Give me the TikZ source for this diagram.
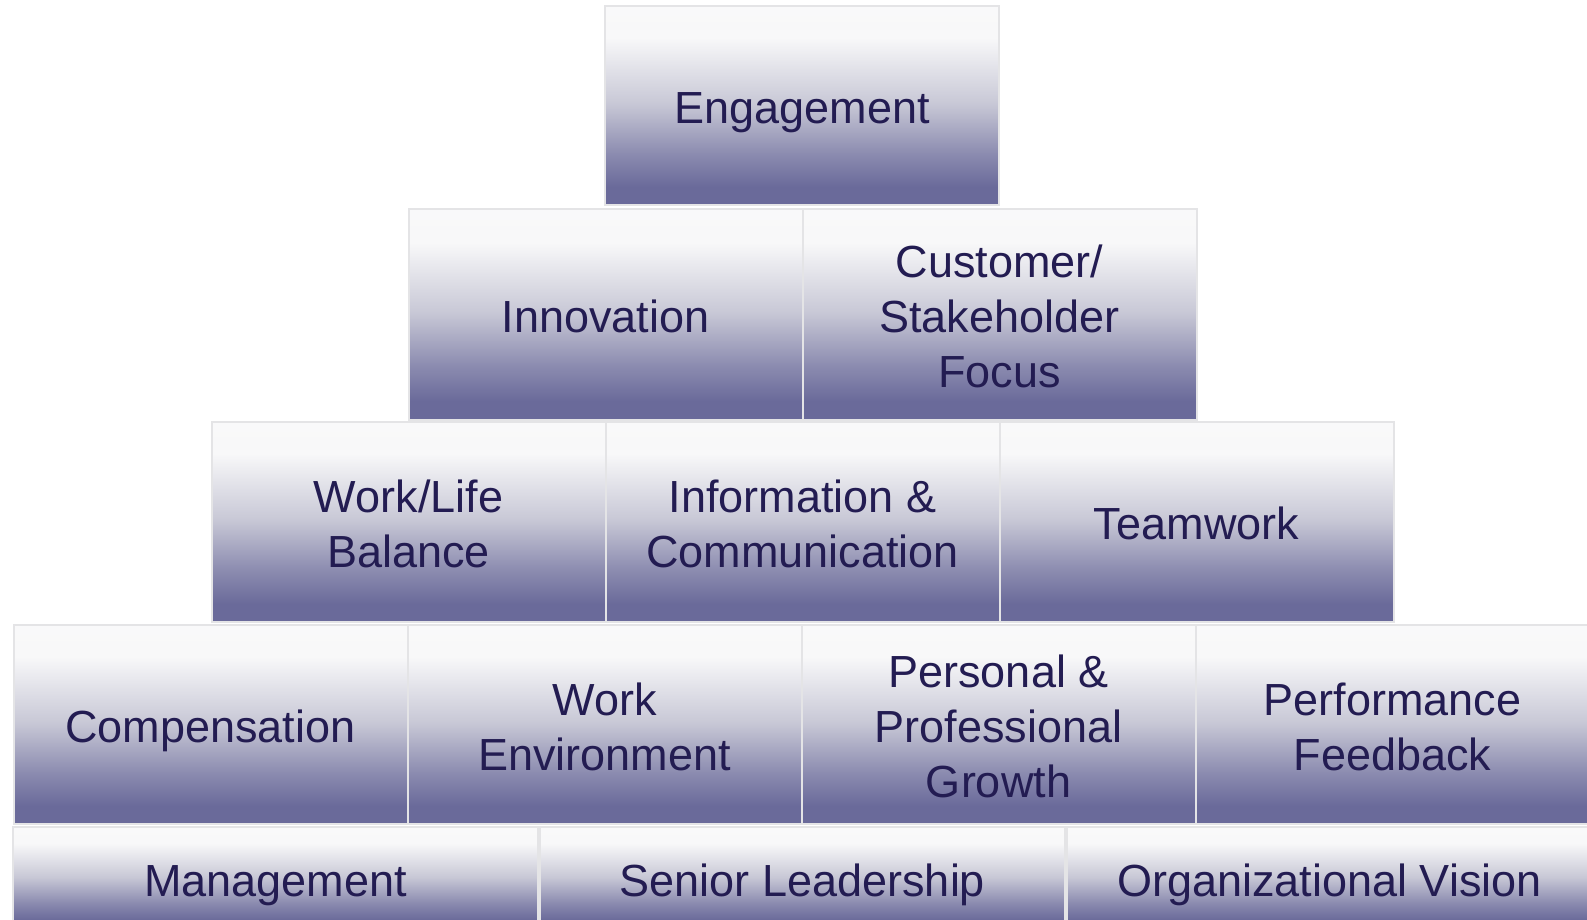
\documentclass[tikz,border=0pt]{standalone}
\usepackage{fontspec}
\setmainfont{Liberation Sans}
\definecolor{tierdark}{RGB}{106,106,154}
\definecolor{tierlow}{RGB}{140,140,176}
\definecolor{tiermid}{RGB}{200,200,214}
\definecolor{tierpale}{RGB}{248,248,249}
\definecolor{tiertop}{RGB}{252,252,252}
\definecolor{tierline}{RGB}{228,228,230}
\definecolor{tiertext}{RGB}{35,28,82}
% soft white-to-violet fade used on every block (the path spans 25bp..75bp)
\pgfdeclareverticalshading{tierfade}{100bp}{%
  color(0bp)=(tierdark); color(29.5bp)=(tierdark); color(38bp)=(tierlow);
  color(50.5bp)=(tiermid); color(67bp)=(tierpale); color(100bp)=(tiertop)}
% fixed line box so every line sits at the same height
\newcommand{\tierstrut}{\rule[-0.22em]{0pt}{1.24em}}
\tikzset{
  block/.style={rectangle, draw=tierline, line width=2pt, shading=tierfade,
    inner sep=0pt, align=center, text=tiertext,
    font=\fontsize{45}{55}\selectfont},
}
\begin{document}
\begin{tikzpicture}[x=1pt,y=-1pt]
\lineskiplimit=-30pt\relax
\useasboundingbox (0,0) rectangle (1587,919);
\clip (0,0) rectangle (1587,919);
% top
\node[block, minimum width=394, minimum height=199] (eng) at (802,105.5) {\tierstrut Engagement\tierstrut};
% second tier
\node[block, minimum width=394, minimum height=211] (inn) at (605.5,314.5) {\tierstrut Innovation\tierstrut};
\node[block, minimum width=394, minimum height=211] (cus) at (999.5,314.5) {\tierstrut Customer/\\Stakeholder\\Focus\tierstrut};
% third tier
\node[block, minimum width=394, minimum height=200] (wlb) at (408.5,521.5) {\tierstrut Work/Life\\Balance\tierstrut};
\node[block, minimum width=394, minimum height=200] (inf) at (802.5,521.5) {\tierstrut Information \&\\Communication\tierstrut};
\node[block, minimum width=394, minimum height=200] (tea) at (1196.5,521.5) {\tierstrut Teamwork\tierstrut};
% fourth tier
\node[block, minimum width=394, minimum height=199] (com) at (210.5,724.5) {\tierstrut Compensation\tierstrut};
\node[block, minimum width=394, minimum height=199] (wen) at (604.5,724.5) {\tierstrut Work\\Environment\tierstrut};
\node[block, minimum width=394, minimum height=199] (ppg) at (998.5,724.5) {\tierstrut Personal \&\\Professional\\Growth\tierstrut};
\node[block, minimum width=394, minimum height=199] (pfb) at (1392.5,724.5) {\tierstrut Performance\\Feedback\tierstrut};
% base
\node[block, minimum width=525, minimum height=102] (man) at (275.5,878) {\tierstrut Management\tierstrut};
\node[block, minimum width=525, minimum height=102] (sen) at (802.5,878) {\tierstrut Senior Leadership\tierstrut};
\node[block, minimum width=525, minimum height=102] (org) at (1329.5,878) {\tierstrut Organizational Vision\tierstrut};
\end{tikzpicture}
\end{document}
